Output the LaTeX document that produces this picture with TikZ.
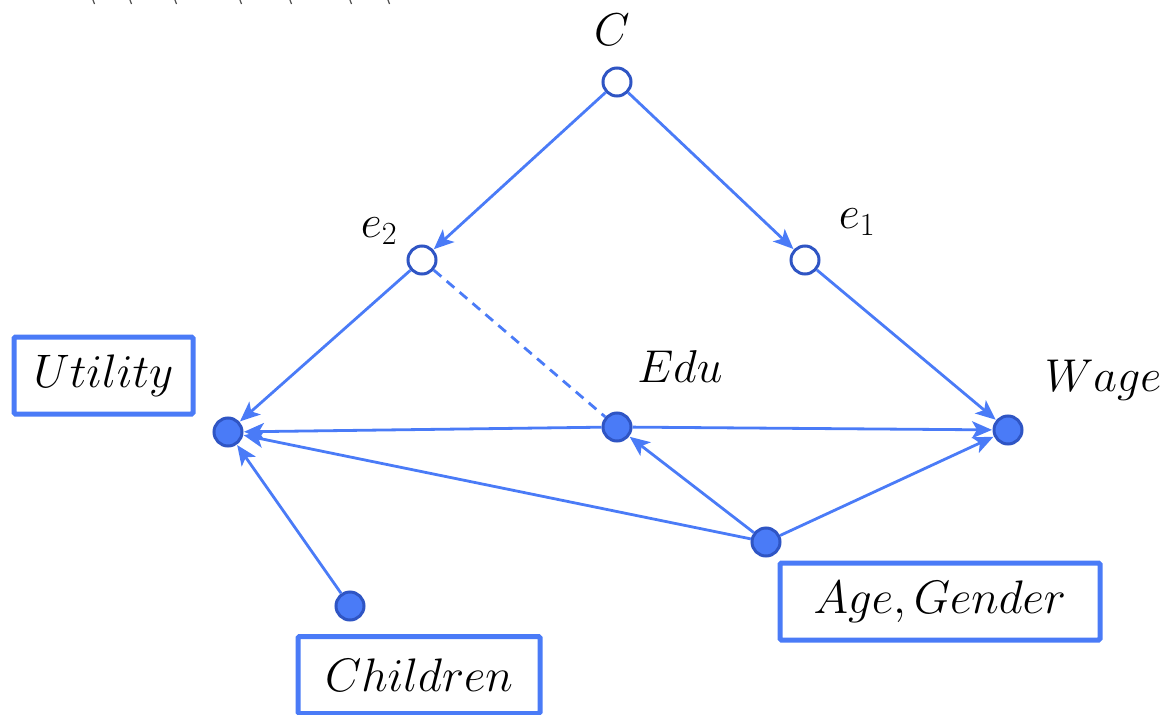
\RequirePackage{fix-cm}
\documentclass[tikz,border=0pt]{standalone}
\usetikzlibrary{arrows.meta}
\definecolor{lineblue}{HTML}{4A7BF7}
\definecolor{darkblue}{HTML}{2F55C4}
\begin{document}
\begin{tikzpicture}[x=1pt,y=-1pt,
  opennode/.style={circle,draw=darkblue,line width=3pt,fill=white,inner sep=0pt,minimum size=28pt},
  filled/.style={circle,draw=darkblue,line width=3pt,fill=lineblue,inner sep=0pt,minimum size=28pt},
  labelbox/.style={draw=lineblue,line width=5pt,rounded corners=1.5pt,fill=white,inner sep=0pt,font=\fontsize{47}{52}\selectfont},
  lbl/.style={inner sep=0pt,font=\fontsize{46}{52}\selectfont},
  edge/.style={draw=lineblue,line width=2.8pt,-{Stealth[length=20pt,width=17pt,inset=5pt]},shorten >=0.5pt},
  plain/.style={draw=lineblue,line width=2.8pt,dash pattern=on 10pt off 7pt}
]
\useasboundingbox (0,0) rectangle (1171,715);
% stray marks at the top edge
\foreach \xx in {93,130,175,240,290,350,388}
  \draw[black!70,line width=1.2pt] (\xx,0) -- (\xx+1.5,4);
% nodes
\node[opennode] (C) at (617,82) {};
\node[opennode] (e2) at (422,260) {};
\node[opennode] (e1) at (805,260) {};
\node[filled] (U) at (228,432) {};
\node[filled] (E) at (617,427) {};
\node[filled] (W) at (1008,430) {};
\node[filled] (A) at (766,542) {};
\node[filled] (Ch) at (350,606) {};
% labels
\node[lbl] (Clbl) at (612,30) {$C$};
\node[lbl] (e2lbl) at (379,231) {$e_2$};
\node[lbl] (e1lbl) at (857,222) {$e_1$};
\node[lbl] (Elbl) at (680,367) {$Edu$};
\node[lbl] (Wlbl) at (1103,380) {$Wage$};
\node[labelbox,minimum width=179pt,minimum height=77pt] (Ubox) at (103.5,375.5) {$Utility$};
\node[labelbox,minimum width=320pt,minimum height=77pt] (Abox) at (940,601.5) {$Age,Gender$};
\node[labelbox,minimum width=242pt,minimum height=77pt] (Cbox) at (419,675) {$Children$};
% edges
\draw[edge] (C) -- (e2);
\draw[edge] (C) -- (e1);
\draw[edge] (e2) -- (U);
\draw[plain] (e2) -- (E);
\draw[edge] (e1) -- (W);
\draw[edge] (E) -- (U);
\draw[edge] (E) -- (W);
\draw[edge] (A) -- (U);
\draw[edge] (A) -- (E);
\draw[edge] (A) -- (W);
\draw[edge] (Ch) -- (U);
\end{tikzpicture}
\end{document}
